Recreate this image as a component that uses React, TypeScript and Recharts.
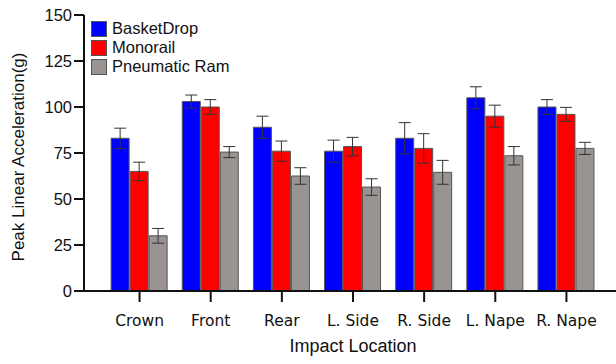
import React from 'react';
import { BarChart, Bar, XAxis, YAxis, ErrorBar, Label } from 'recharts';

const categories = ['Crown', 'Front', 'Rear', 'L. Side', 'R. Side', 'L. Nape', 'R. Nape'];
const basketDrop = [83, 103, 89, 76, 83, 105, 100];
const basketDropErr = [5.5, 3.5, 6, 6, 8.5, 6, 4];
const monorail = [65, 100, 76, 78.5, 77.5, 95, 96];
const monorailErr = [5, 4, 5.5, 5, 8, 6, 3.8];
const pneumaticRam = [30, 75.5, 62.5, 56.5, 64.5, 73.5, 77.5];
const pneumaticRamErr = [4, 3, 4.5, 4.5, 6.5, 5, 3.3];
const yTicks = [0, 25, 50, 75, 100, 125, 150];

const series = [
  { key: 'bd', name: 'BasketDrop', color: '#0000FF' },
  { key: 'mr', name: 'Monorail', color: '#FF0000' },
  { key: 'pr', name: 'Pneumatic Ram', color: '#999491' },
];

const data = categories.map((c, i) => ({
  name: c,
  bd: basketDrop[i],
  bdErr: basketDropErr[i],
  mr: monorail[i],
  mrErr: monorailErr[i],
  pr: pneumaticRam[i],
  prErr: pneumaticRamErr[i],
}));

const sans = 'Liberation Sans, Arial, sans-serif';

function LegendBox() {
  return (
    <div style={{ position: 'absolute', left: 91, top: 19, fontFamily: sans, fontSize: 16.5, color: '#111' }}>
      {series.map((s) => (
        <div key={s.key} style={{ display: 'flex', alignItems: 'center', height: 19 }}>
          <div style={{ width: 14, height: 14, background: s.color, border: '1px solid #555', marginRight: 5 }} />
          <span>{s.name}</span>
        </div>
      ))}
    </div>
  );
}

function XTick(props: any) {
  const { x, y, payload } = props;
  return (
    <text
      x={x}
      y={y + 22}
      textAnchor="middle"
      fontFamily="DejaVu Sans, sans-serif"
      fontSize={15.5}
      fill="#111"
    >
      {payload.value}
    </text>
  );
}

export default function App() {
  return (
    <div style={{ position: 'absolute', left: 0, top: 0, width: 616, height: 364, background: '#fff' }}>
      <BarChart
        width={616}
        height={364}
        data={data}
        margin={{ top: 15, right: 0, bottom: 0, left: 0 }}
        barCategoryGap="10%"
        barGap={1}
      >
        <YAxis
          width={84}
          domain={[0, 150]}
          ticks={yTicks}
          interval={0}
          axisLine={{ stroke: '#111', strokeWidth: 2 }}
          tickLine={{ stroke: '#111', strokeWidth: 2 }}
          tickSize={10}
          tick={{ fill: '#111', fontSize: 16.5, fontFamily: sans }}
        >
          <Label
            content={({ viewBox }: any) => {
              const cy = viewBox.y + viewBox.height / 2 + 4;
              return (
                <text
                  x={24}
                  y={cy}
                  transform={`rotate(-90, 24, ${cy})`}
                  textAnchor="middle"
                  fontFamily={sans}
                  fontSize={17}
                  fill="#111"
                >
                  Peak Linear Acceleration(g)
                </text>
              );
            }}
          />
        </YAxis>
        <XAxis
          dataKey="name"
          height={73}
          padding={{ left: 20, right: 14 }}
          axisLine={{ stroke: '#111', strokeWidth: 2 }}
          tickLine={{ stroke: '#111', strokeWidth: 2 }}
          tickSize={11}
          interval={0}
          tick={<XTick />}
        >
          <Label
            content={() => (
              <text
                x={353}
                y={352}
                textAnchor="middle"
                fontFamily={sans}
                fontSize={18}
                fill="#111"
              >
                Impact Location
              </text>
            )}
          />
        </XAxis>
        {series.map((s) => (
          <Bar
            key={s.key}
            dataKey={s.key}
            name={s.name}
            fill={s.color}
            stroke="#555"
            strokeWidth={1}
            isAnimationActive={false}
          >
            <ErrorBar dataKey={`${s.key}Err`} width={6} stroke="#333" strokeWidth={1} />
          </Bar>
        ))}
      </BarChart>
      <LegendBox />
    </div>
  );
}
